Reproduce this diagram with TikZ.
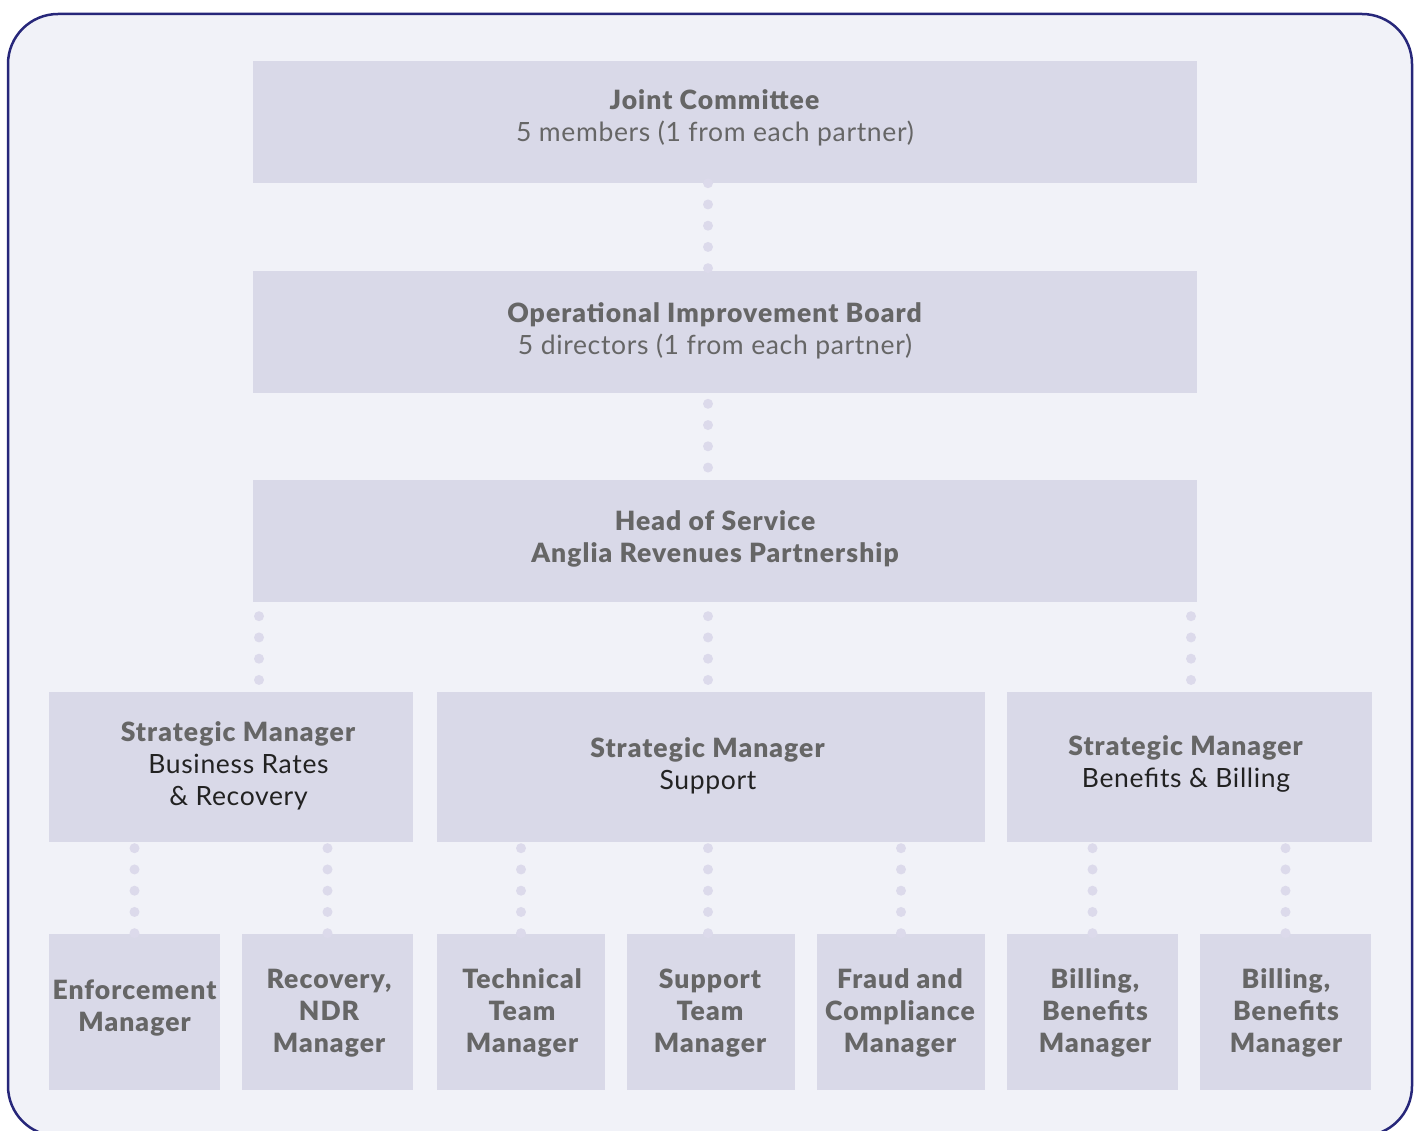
\documentclass[tikz,border=0pt]{standalone}
\usepackage{fontspec}
\setmainfont{Lato}[BoldFont={Lato Black}, LetterSpace=2.5, BoldFeatures={LetterSpace=4.0}]
\usepackage{tikz}
\definecolor{framec}{HTML}{27277A}
\definecolor{paper}{HTML}{F1F2F8}
\definecolor{boxfill}{HTML}{D9D9E8}
\definecolor{dotfill}{HTML}{DCDAEB}
\definecolor{titlegray}{HTML}{666666}
\definecolor{subdark}{HTML}{222222}
\tikzset{
  box/.style={fill=boxfill, inner sep=0pt},
  txt/.style={align=center, text=titlegray, inner sep=0pt, font=\fontsize{26.5}{32}\selectfont},
  btxt/.style={txt, font=\bfseries\fontsize{26.5}{32}\selectfont},
  dotline/.style={draw=dotfill, line width=10pt, line cap=round, dash pattern=on 0pt off 21.25pt},
}
\newcommand{\dk}[1]{\textcolor{subdark}{#1}}

\begin{document}
\begin{tikzpicture}[x=1pt,y=-1pt]
 \useasboundingbox (0,0) rectangle (1421,1131);
 \draw[framec, line width=2.5pt, fill=paper, rounded corners=50pt] (8,14) rectangle (1412,1136);
 % boxes
 \node[box, minimum width=944, minimum height=122] (jc) at (725,122) {};
 \node[box, minimum width=944, minimum height=122] (oib) at (725,332) {};
 \node[box, minimum width=944, minimum height=122] (head) at (725,541) {};
 \node[box, minimum width=364, minimum height=150] (smL) at (231,767) {};
 \node[box, minimum width=548, minimum height=150] (smM) at (711,767) {};
 \node[box, minimum width=365, minimum height=150] (smR) at (1189.5,767) {};
 \node[box, minimum width=171, minimum height=156] (enf) at (134.5,1012) {};
 \node[box, minimum width=171, minimum height=156] (rec) at (327.5,1012) {};
 \node[box, minimum width=168, minimum height=156] (tech) at (521,1012) {};
 \node[box, minimum width=168, minimum height=156] (sup) at (711,1012) {};
 \node[box, minimum width=168, minimum height=156] (fraud) at (901,1012) {};
 \node[box, minimum width=171, minimum height=156] (billA) at (1092.5,1012) {};
 \node[box, minimum width=171, minimum height=156] (billB) at (1285.5,1012) {};
 % texts
 \node[txt] (jc-t) at (715,118) {\textbf{Joint Committee}\\5 members (1 from each partner)};
 \node[txt] (oib-t) at (715,331) {\textbf{Operational Improvement Board}\\5 directors (1 from each partner)};
 \node[btxt] (head-t) at (715,539) {Head of Service\\Anglia Revenues Partnership};
 \node[txt] (smL-t) at (238.5,766) {\textbf{Strategic Manager}\\\dk{Business Rates}\\\dk{\& Recovery}};
 \node[txt] (smM-t) at (708,766) {\textbf{Strategic Manager}\\\dk{Support}};
 \node[txt] (smR-t) at (1186,764) {\textbf{Strategic Manager}\\\dk{Benefits \& Billing}};
 \node[btxt] (enf-t) at (134.5,1008) {Enforcement\\Manager};
 \node[btxt] (rec-t) at (329,1013) {Recovery,\\NDR\\Manager};
 \node[btxt] (tech-t) at (522,1013) {Technical\\Team\\Manager};
 \node[btxt] (sup-t) at (710,1013) {Support\\Team\\Manager};
 \node[btxt] (fraud-t) at (900,1013) {Fraud and\\Compliance\\Manager};
 \node[btxt] (billA-t) at (1095,1013) {Billing,\\Benefits\\Manager};
 \node[btxt] (billB-t) at (1286,1013) {Billing,\\Benefits\\Manager};
 % dotted links
 \coordinate (spine) at (708,0);
 \coordinate (hL) at (259,0);
 \coordinate (hR) at (1191,0);
 \draw[dotline] (jc.south -| spine) -- (oib.north -| spine);
 \draw[dotline, dash phase=10.65pt] (oib.south -| spine) -- (head.north -| spine);
 \draw[dotline, dash phase=7.25pt] (head.south -| hL) -- (smL.north -| hL);
 \draw[dotline, dash phase=7.25pt] (head.south -| spine) -- (smM.north -| spine);
 \draw[dotline, dash phase=7.25pt] (head.south -| hR) -- (smR.north -| hR);
 \draw[dotline, dash phase=15.25pt] (smL.south -| enf.north) -- (enf.north);
 \draw[dotline, dash phase=15.25pt] (smL.south -| rec.north) -- (rec.north);
 \draw[dotline, dash phase=15.25pt] (smM.south -| tech.north) -- (tech.north);
 \draw[dotline, dash phase=15.25pt] (smM.south -| spine) -- (sup.north -| spine);
 \draw[dotline, dash phase=15.25pt] (smM.south -| fraud.north) -- (fraud.north);
 \draw[dotline, dash phase=15.25pt] (smR.south -| billA.north) -- (billA.north);
 \draw[dotline, dash phase=15.25pt] (smR.south -| billB.north) -- (billB.north);
\end{tikzpicture}
\end{document}
